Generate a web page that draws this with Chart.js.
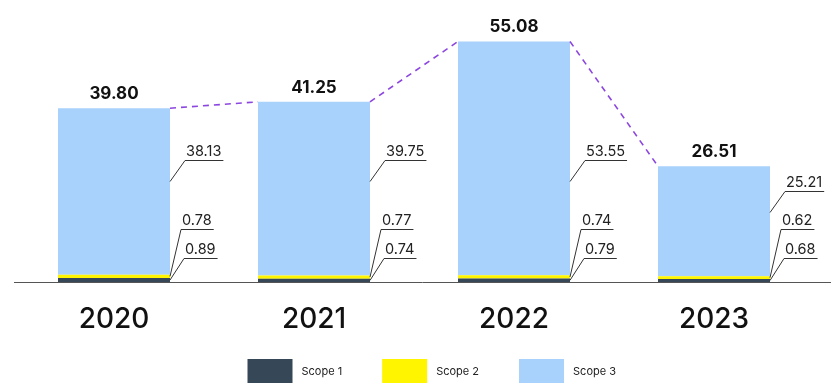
<!DOCTYPE html>
<html>
<head>
<meta charset="utf-8">
<script src="https://cdn.jsdelivr.net/npm/chart.js@4/dist/chart.umd.min.js"></script>
<style>
html,body{margin:0;padding:0;background:#fff;}
#wrap{width:831px;height:385px;position:relative;}
</style>
</head>
<body>
<div id="wrap"><canvas id="c" width="831" height="385"></canvas></div>
<script>
const years = ['2020', '2021', '2022', '2023'];
const scope1 = [0.89, 0.74, 0.79, 0.68];
const scope2 = [0.78, 0.77, 0.74, 0.62];
const scope3 = [38.13, 39.75, 53.55, 25.21];
const totals = [39.80, 41.25, 55.08, 26.51];
const seriesNames = ['Scope 1', 'Scope 2', 'Scope 3'];
const seriesColors = ['#364857', '#fff500', '#a8d1fb'];

const FONT = 'Inter, "Open Sans", sans-serif';

const annotPlugin = {
  id: 'annot',
  afterDatasetsDraw(chart) {
    const ctx = chart.ctx;
    const ca = chart.chartArea;
    const ys = chart.scales.y;
    const m1 = chart.getDatasetMeta(0), m2 = chart.getDatasetMeta(1), m3 = chart.getDatasetMeta(2);
    ctx.save();
    // baseline
    ctx.strokeStyle = '#555';
    ctx.lineWidth = 1;
    ctx.beginPath();
    ctx.moveTo(ca.left, Math.round(ca.bottom) + 0.5);
    ctx.lineTo(chart.width, Math.round(ca.bottom) + 0.5);
    ctx.stroke();
    // dashed connectors
    ctx.strokeStyle = '#8c46e0';
    ctx.lineWidth = 1.6;
    ctx.setLineDash([6, 5]);
    for (let i = 0; i < m3.data.length - 1; i++) {
      const a = m3.data[i], b = m3.data[i + 1];
      ctx.beginPath();
      ctx.moveTo(a.x + a.width / 2, a.y);
      ctx.lineTo(b.x - b.width / 2, b.y);
      ctx.stroke();
    }
    ctx.setLineDash([]);
    ctx.lineWidth = 1;
    // totals
    ctx.fillStyle = '#111';
    ctx.font = 'bold 17px ' + FONT;
    ctx.textAlign = 'center';
    ctx.textBaseline = 'alphabetic';
    m3.data.forEach((b, i) => {
      ctx.fillText(totals[i].toFixed(2), b.x, b.y - 9);
    });
    // callouts
    ctx.font = '14.5px ' + FONT;
    ctx.textAlign = 'left';
    ctx.strokeStyle = '#333';
    ctx.fillStyle = '#222';
    function callout(x0, y0, xe, ye, text) {
      const tw = ctx.measureText(text).width;
      ctx.beginPath();
      ctx.moveTo(x0, y0);
      ctx.lineTo(xe, ye + 0.5);
      ctx.lineTo(xe + tw + 3, ye + 0.5);
      ctx.stroke();
      ctx.fillText(text, xe + 1, ye - 4);
    }
    m3.data.forEach((b, i) => {
      const right = b.x + b.width / 2;
      const y3 = ys.getPixelForValue(Math.min(23, 0.6 * totals[i]));
      callout(right, y3, right + 15, Math.round(y3 - 22), scope3[i].toFixed(2));
      const s2 = m2.data[i];
      callout(right, (s2.y + s2.base) / 2, right + 11, Math.round(ys.getPixelForValue(12.2)), scope2[i].toFixed(2));
      const s1 = m1.data[i];
      callout(right, (s1.y + s1.base) / 2, right + 14, Math.round(ys.getPixelForValue(5.5)), scope1[i].toFixed(2));
    });
    // legend
    const ds = chart.data.datasets;
    let x = chart.width / 2 - 168;
    const top = 359;
    ctx.font = '11px ' + FONT;
    ctx.textBaseline = 'middle';
    ds.forEach((d) => {
      ctx.fillStyle = d.backgroundColor;
      ctx.fillRect(x, top, 45, 24);
      ctx.fillStyle = '#222';
      ctx.fillText(d.label, x + 54, top + 13);
      x += 54 + ctx.measureText(d.label).width + 40;
    });
    ctx.restore();
  }
};

new Chart(document.getElementById('c'), {
  type: 'bar',
  data: {
    labels: years,
    datasets: [
      { label: seriesNames[0], data: scope1, backgroundColor: seriesColors[0] },
      { label: seriesNames[1], data: scope2, backgroundColor: seriesColors[1] },
      { label: seriesNames[2], data: scope3, backgroundColor: seriesColors[2] }
    ]
  },
  options: {
    responsive: false,
    animation: false,
    events: [],
    layout: { padding: { left: 14, right: 17, top: 20, bottom: 50 } },
    datasets: { bar: { categoryPercentage: 1, barPercentage: 0.56, borderWidth: 0 } },
    plugins: { legend: { display: false }, tooltip: { enabled: false } },
    scales: {
      x: {
        stacked: true,
        grid: { display: false, drawTicks: false },
        border: { display: false },
        ticks: { color: '#111', font: { family: FONT, size: 28, weight: '500' }, padding: 21 },
        afterFit(s) { s.height = 53; }
      },
      y: {
        stacked: true,
        display: false,
        min: 0,
        max: 60
      }
    }
  },
  plugins: [annotPlugin]
});
</script>
</body>
</html>
